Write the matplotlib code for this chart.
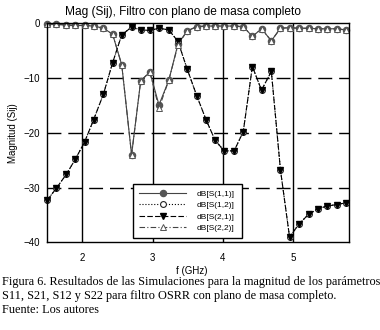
import matplotlib
matplotlib.use('Agg')
import matplotlib.pyplot as plt

# ---- data ----
freq = [1.50, 1.63, 1.77, 1.90, 2.03, 2.16, 2.30, 2.43, 2.56, 2.70, 2.83,
        2.96, 3.09, 3.23, 3.36, 3.49, 3.63, 3.76, 3.89, 4.02, 4.16, 4.29,
        4.42, 4.55, 4.69, 4.82, 4.95, 5.08, 5.22, 5.35, 5.48, 5.62, 5.75]

s21 = [-32.3, -30.1, -27.6, -24.8, -21.7, -17.6, -12.9, -7.2, -2.1, -0.7, -1.2,
       -1.3, -0.9, -1.2, -3.3, -8.3, -13.3, -17.6, -21.4, -23.3, -23.3, -19.8,
       -7.9, -12.2, -8.8, -26.8, -39.1, -36.7, -34.9, -33.9, -33.4, -33.1, -32.8]
s12 = [-32.3, -30.1, -27.6, -24.8, -21.7, -17.6, -12.9, -7.2, -2.1, -0.7, -1.2,
       -1.3, -0.9, -1.2, -3.3, -8.3, -13.3, -17.6, -21.4, -23.3, -23.3, -19.8,
       -7.9, -12.2, -8.8, -26.8, -39.1, -36.7, -34.9, -33.9, -33.4, -33.1, -32.8]
s11 = [-0.1, -0.2, -0.3, -0.4, -0.4, -0.5, -0.9, -2.0, -7.6, -24.0, -10.5,
       -8.9, -14.9, -10.4, -3.8, -1.4, -0.6, -0.5, -0.5, -0.5, -0.5, -0.6,
       -2.4, -1.0, -3.2, -0.9, -0.8, -0.9, -0.9, -1.0, -1.0, -1.0, -1.2]
s22 = [-0.1, -0.2, -0.3, -0.4, -0.4, -0.5, -0.9, -2.0, -7.6, -24.0, -10.5,
       -8.9, -15.5, -10.4, -4.0, -1.4, -0.6, -0.5, -0.5, -0.5, -0.5, -0.6,
       -2.4, -1.0, -3.2, -0.9, -0.8, -0.9, -0.9, -1.0, -1.0, -1.0, -1.2]

labels = ['dB[S(1,1)]', 'dB[S(1,2)]', 'dB[S(2,1)]', 'dB[S(2,2)]']
xticks = [2, 3, 4, 5]
yticks = [0, -10, -20, -30, -40]

title = 'Mag (Sij), Filtro con plano de masa completo'
caption = ['Figura 6. Resultados de las Simulaciones para la magnitud de los parámetros',
           'S11, S21, S12 y S22 para filtro OSRR con plano de masa completo.',
           'Fuente: Los autores']

plt.rcParams['font.family'] = ['Liberation Sans', 'DejaVu Sans']

fig = plt.figure(figsize=(3.8, 3.3), dpi=100)
ax = fig.add_axes([0.1245, 0.2658, 0.7947, 0.6636])

# grid
for x in xticks:
    ax.axvline(x, color='black', lw=1.0, zorder=1)
for y in yticks[1:-1]:
    ax.axhline(y, color='black', lw=1.0, ls=(0, (10, 5)), zorder=1)

ms = 4.2
ax.plot(freq, s11, color='#444444', lw=0.8, ls='-', marker='o', ms=4.4,
        mfc='#555555', mec='#555555', clip_on=False, zorder=3, label=labels[0])
ax.plot(freq, s12, color='black', lw=0.8, ls=':', marker='o', ms=ms,
        mfc='white', mec='#222222', mew=0.8, clip_on=False, zorder=3, label=labels[1])
ax.plot(freq, s21, color='black', lw=0.8, ls=(0, (5, 2)), marker='v', ms=ms + 0.8,
        mfc='black', mec='black', clip_on=False, zorder=4, label=labels[2])
ax.plot(freq, s22, color='#444444', lw=0.8, ls=(0, (5, 2, 1, 2)), marker='^', ms=4.6,
        mfc='white', mec='#555555', mew=0.7, clip_on=False, zorder=4, label=labels[3])

ax.set_xlim(1.5, 5.8)
ax.set_ylim(-40, 0)
ax.set_xticks(xticks)
ax.set_yticks(yticks)
ax.tick_params(length=0, labelsize=7, pad=5)
ax.tick_params(axis='x', pad=8)
for sp in ax.spines.values():
    sp.set_linewidth(1.0)
    sp.set_zorder(5)

ax.set_ylabel('Magnitud (Sij)', fontsize=7, labelpad=4)
fig.text(192 / 380, 1 - 271 / 330, 'f (GHz)', fontsize=7, ha='center', va='center')
fig.text(183 / 380, 1 - 11.7 / 330, title, fontsize=8.6, ha='center', va='center')

leg = ax.legend(loc='lower left', bbox_to_anchor=(0.283, 0.018), borderaxespad=0,
                fontsize=6, frameon=True, fancybox=False, edgecolor='black',
                framealpha=1, handlelength=5.6, handletextpad=1.3, labelspacing=0.4,
                borderpad=0.8, numpoints=1)
leg.get_frame().set_linewidth(1.0)
leg.set_zorder(6)

ys = [281.7, 296.3, 310.3]
for line, y in zip(caption, ys):
    fig.text(2 / 380, 1 - y / 330, line, fontsize=8.8, family=['Liberation Serif', 'DejaVu Serif'],
             ha='left', va='center')

fig.savefig('out.png', dpi=100)
